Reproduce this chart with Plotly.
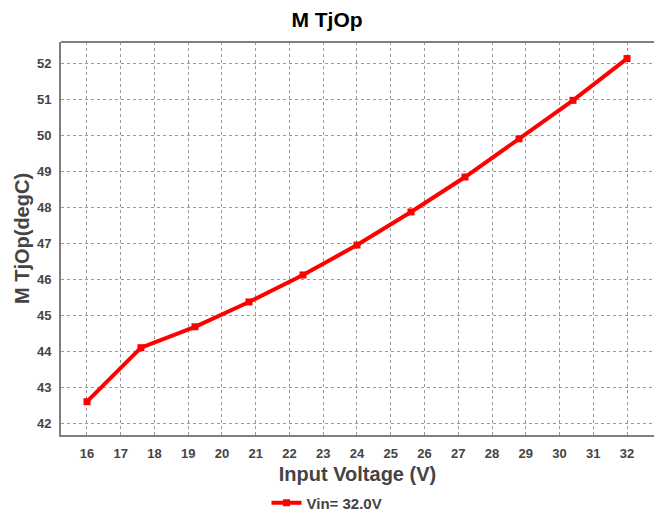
import plotly.graph_objects as go

vin = [16, 17.6, 19.2, 20.8, 22.4, 24, 25.6, 27.2, 28.8, 30.4, 32]
tjop = [42.6, 44.1, 44.68, 45.37, 46.12, 46.95, 47.87, 48.84, 49.9, 50.97, 52.13]
x_ticks = list(range(16, 33))
y_ticks = list(range(42, 53))

font_family = "Liberation Sans, Arial, sans-serif"

fig = go.Figure()
fig.add_trace(go.Scatter(
    x=vin, y=tjop, mode="lines+markers", name="<b>Vin= 32.0V</b>",
    line=dict(color="#ff0000", width=4),
    marker=dict(symbol="square", size=7, color="#ff0000"),
))

fig.update_layout(
    width=654, height=511,
    margin=dict(l=61, r=0, t=42, b=76),
    plot_bgcolor="white", paper_bgcolor="white",
    title=dict(text="<b>M TjOp</b>", x=0.5, xanchor="center", y=1 - 20 / 511, yanchor="middle",
               yref="container",
               font=dict(family=font_family, size=21, color="#000000")),
    font=dict(family=font_family, color="#444444"),
    showlegend=True,
    legend=dict(orientation="h", x=0.5, xanchor="center", xref="container",
                y=1 - 503 / 511, yanchor="middle", yref="container",
                font=dict(family=font_family, size=15, color="#444444"),
                itemwidth=30),
    shapes=[dict(type="line", xref="paper", yref="paper", x0=0, x1=1, y0=1, y1=1,
                 line=dict(color="#808080", width=2))],
)

fig.update_xaxes(
    automargin=False,
    range=[15.23, 32.8], tickvals=x_ticks, ticktext=[f"<b>{t}</b>" for t in x_ticks],
    tickfont=dict(size=13, color="#444444"), ticklabelstandoff=5,
    showgrid=True, gridcolor="#999999", griddash="dot", gridwidth=1,
    showline=True, linecolor="#808080", linewidth=2,
    ticks="", zeroline=False,
    title=dict(text="<b>Input Voltage (V)</b>", font=dict(size=20, color="#444444"), standoff=7),
)
fig.update_yaxes(
    automargin=False,
    range=[41.675, 52.59], tickvals=y_ticks, ticktext=[f"<b>{t}</b>" for t in y_ticks],
    tickfont=dict(size=13, color="#444444"), ticklabelstandoff=5,
    showgrid=True, gridcolor="#999999", griddash="dot", gridwidth=1,
    showline=True, linecolor="#808080", linewidth=2,
    ticks="", zeroline=False,
    title=dict(text="<b>M TjOp(degC)</b>", font=dict(size=20, color="#444444"), standoff=2),
)

fig.write_html("out.html", config={"displayModeBar": False},
               post_script="document.body.style.margin='0';document.body.style.padding='0';")
